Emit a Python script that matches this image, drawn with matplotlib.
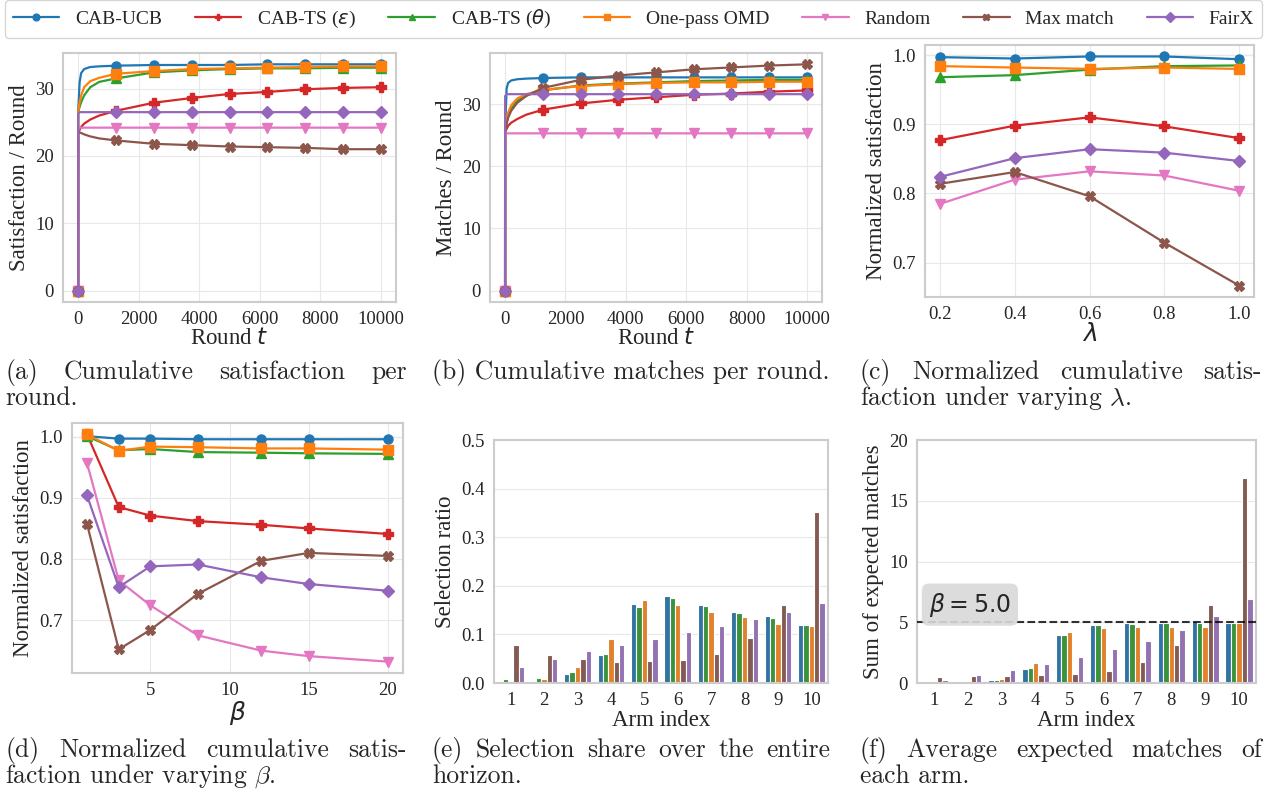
import numpy as np
import matplotlib
matplotlib.use('Agg')
import matplotlib.pyplot as plt
import seaborn as sns

sns.set_style('whitegrid')
plt.rcParams['font.family'] = ['Liberation Serif', 'DejaVu Sans']
plt.rcParams['mathtext.fontset'] = 'dejavusans'
plt.rcParams['axes.edgecolor'] = '#cccccc'
plt.rcParams['axes.linewidth'] = 1.5
plt.rcParams['grid.color'] = '#e8e8e8'
plt.rcParams['xtick.labelsize'] = 13.5
plt.rcParams['ytick.labelsize'] = 13.5
plt.rcParams['text.color'] = '#262626'
plt.rcParams['xtick.color'] = '#262626'
plt.rcParams['ytick.color'] = '#262626'

# ---- data ----
methods = ['CAB-UCB', r'CAB-TS ($\varepsilon$)', r'CAB-TS ($\theta$)', 'One-pass OMD',
           'Random', 'Max match', 'FairX']
colors = ['tab:blue', 'tab:red', 'tab:green', 'tab:orange', 'tab:pink', 'tab:brown', 'tab:purple']
markers = ['o', 'P', '^', 's', 'v', 'X', 'D']

rounds = [0, 1, 50, 100, 200, 400, 700, 1250, 2500, 3750, 5000, 6250, 7500, 8750, 10000]
mark_idx = [0, 7, 8, 9, 10, 11, 12, 13, 14]

sat_ucb = [0, 26.5, 31.0, 32.3, 32.9, 33.2, 33.3, 33.4, 33.5, 33.5, 33.5, 33.6, 33.6, 33.6, 33.6]
sat_ts_eps = [0, 23.5, 23.9, 24.3, 24.8, 25.4, 26.0, 26.7, 27.9, 28.6, 29.2, 29.5, 29.9, 30.1, 30.2]
sat_ts_theta = [0, 26.5, 27.3, 28.0, 29.0, 30.2, 31.0, 31.5, 32.4, 32.7, 32.9, 33.0, 33.0, 33.1, 33.1]
sat_omd = [0, 26.5, 28.0, 29.0, 30.2, 31.1, 31.6, 32.2, 32.6, 32.9, 33.0, 33.1, 33.2, 33.3, 33.3]
sat_random = [0, 24.2, 24.2, 24.2, 24.2, 24.2, 24.2, 24.2, 24.2, 24.2, 24.2, 24.2, 24.2, 24.2, 24.2]
sat_max = [0, 23.6, 23.5, 23.4, 23.2, 22.9, 22.6, 22.3, 21.8, 21.6, 21.4, 21.3, 21.2, 21.0, 21.0]
sat_fairx = [0, 26.3, 26.5, 26.5, 26.5, 26.5, 26.5, 26.5, 26.5, 26.5, 26.5, 26.5, 26.5, 26.5, 26.5]

match_ucb = [0, 26.0, 32.5, 33.4, 33.8, 34.0, 34.1, 34.2, 34.3, 34.3, 34.3, 34.3, 34.3, 34.3, 34.3]
match_ts_eps = [0, 25.5, 26.0, 26.5, 27.0, 27.6, 28.3, 29.1, 30.1, 30.7, 31.1, 31.5, 31.7, 32.0, 32.2]
match_ts_theta = [0, 25.5, 27.0, 28.0, 29.2, 30.5, 31.4, 32.2, 33.0, 33.3, 33.5, 33.7, 33.8, 33.9, 33.9]
match_omd = [0, 25.5, 27.5, 28.6, 29.8, 30.9, 31.6, 32.3, 32.9, 33.2, 33.4, 33.5, 33.5, 33.6, 33.6]
match_random = [0, 25.3, 25.3, 25.3, 25.3, 25.3, 25.3, 25.3, 25.3, 25.3, 25.3, 25.3, 25.3, 25.3, 25.3]
match_max = [0, 25.5, 26.8, 27.8, 28.9, 30.2, 31.3, 32.6, 33.9, 34.6, 35.1, 35.6, 35.9, 36.2, 36.4]
match_fairx = [0, 31.3, 31.6, 31.6, 31.6, 31.6, 31.6, 31.6, 31.6, 31.6, 31.6, 31.6, 31.6, 31.6, 31.6]

lambdas = [0.2, 0.4, 0.6, 0.8, 1.0]
lam_ucb = [0.997, 0.995, 0.998, 0.998, 0.994]
lam_ts_eps = [0.877, 0.898, 0.910, 0.897, 0.880]
lam_ts_theta = [0.968, 0.971, 0.979, 0.984, 0.985]
lam_omd = [0.984, 0.982, 0.980, 0.982, 0.980]
lam_random = [0.785, 0.820, 0.832, 0.826, 0.804]
lam_max = [0.814, 0.831, 0.796, 0.729, 0.667]
lam_fairx = [0.824, 0.851, 0.864, 0.859, 0.847]

betas = [1, 3, 5, 8, 12, 15, 20]
beta_ucb = [1.001, 0.997, 0.997, 0.996, 0.996, 0.996, 0.996]
beta_ts_eps = [1.004, 0.885, 0.871, 0.862, 0.856, 0.850, 0.841]
beta_ts_theta = [1.001, 0.978, 0.980, 0.975, 0.974, 0.973, 0.972]
beta_omd = [1.004, 0.977, 0.984, 0.983, 0.981, 0.981, 0.979]
beta_random = [0.957, 0.765, 0.724, 0.675, 0.650, 0.641, 0.632]
beta_max = [0.857, 0.652, 0.684, 0.743, 0.797, 0.810, 0.805]
beta_fairx = [0.904, 0.754, 0.788, 0.791, 0.770, 0.759, 0.748]

arms = ['1', '2', '3', '4', '5', '6', '7', '8', '9', '10']
bar_methods = ['CAB-UCB', 'CAB-TS (theta)', 'One-pass OMD', 'Max match', 'FairX']
bar_colors = ['tab:blue', 'tab:green', 'tab:orange', 'tab:brown', 'tab:purple']
share_ucb = [0.001, 0.003, 0.018, 0.057, 0.163, 0.179, 0.161, 0.146, 0.138, 0.119]
share_ts_theta = [0.008, 0.010, 0.022, 0.059, 0.156, 0.174, 0.159, 0.144, 0.134, 0.119]
share_omd = [0.003, 0.009, 0.032, 0.090, 0.171, 0.161, 0.147, 0.135, 0.121, 0.117]
share_max = [0.079, 0.057, 0.050, 0.043, 0.045, 0.047, 0.060, 0.092, 0.161, 0.352]
share_fairx = [0.032, 0.050, 0.066, 0.079, 0.090, 0.105, 0.118, 0.132, 0.146, 0.165]

exp_ucb = [0.0, 0.0, 0.22, 1.19, 3.97, 4.80, 4.91, 4.91, 5.10, 4.91]
exp_ts_theta = [0.0, 0.0, 0.22, 1.24, 3.97, 4.80, 4.86, 4.91, 4.97, 4.91]
exp_omd = [0.0, 0.0, 0.36, 1.63, 4.17, 4.52, 4.63, 4.63, 4.58, 4.91]
exp_max = [0.47, 0.55, 0.60, 0.66, 0.77, 1.02, 1.71, 3.14, 6.43, 16.9]
exp_fairx = [0.22, 0.66, 1.08, 1.54, 2.12, 2.81, 3.45, 4.33, 5.54, 6.95]
beta_level = 5.0

W, H = 1268, 795
fig = plt.figure(figsize=(W / 100, H / 100), dpi=100)
LABEL_FS = 16.5


def add_ax(l, t, r, b):
    return fig.add_axes([l / W, 1 - b / H, (r - l) / W, (b - t) / H])


def line_panel(ax, x, series, markevery=None):
    for ys, c, m, lab in zip(series, colors, markers, methods):
        ax.plot(x, ys, color=c, marker=m, markersize=6.5, lw=1.6, label=lab, markevery=markevery)


def bar_panel(ax, series):
    x = np.arange(len(arms))
    w = 0.8 / len(series)
    for i, (ys, c) in enumerate(zip(series, bar_colors)):
        ax.bar(x - 0.4 + w * (i + 0.5), ys, width=w, color=sns.desaturate(c, 0.75),
               edgecolor='white', linewidth=0.8, zorder=2)
    ax.set_xticks(x)
    ax.set_xticklabels(arms)
    ax.set_xlim(-0.5, 9.5)
    ax.grid(axis='x', visible=False)
    ax.set_xlabel('Arm index', fontsize=LABEL_FS, labelpad=1)


# (a)
ax_a = add_ax(63, 53, 396, 302)
line_panel(ax_a, rounds, [sat_ucb, sat_ts_eps, sat_ts_theta, sat_omd, sat_random, sat_max, sat_fairx], mark_idx)
ax_a.set_xlabel('Round $t$', fontsize=LABEL_FS, labelpad=0)
ax_a.set_ylabel('Satisfaction / Round', fontsize=LABEL_FS)
ax_a.set_xticks([0, 2000, 4000, 6000, 8000, 10000])

# (b)
ax_b = add_ax(490, 53, 822, 302)
line_panel(ax_b, rounds, [match_ucb, match_ts_eps, match_ts_theta, match_omd, match_random, match_max, match_fairx], mark_idx)
ax_b.set_xlabel('Round $t$', fontsize=LABEL_FS, labelpad=0)
ax_b.set_ylabel('Matches / Round', fontsize=LABEL_FS)
ax_b.set_xticks([0, 2000, 4000, 6000, 8000, 10000])

# (c)
ax_c = add_ax(925, 45, 1254, 297)
line_panel(ax_c, lambdas, [lam_ucb, lam_ts_eps, lam_ts_theta, lam_omd, lam_random, lam_max, lam_fairx])
ax_c.axhline(1.0, color='gray', ls='--', lw=0.8, zorder=0)
ax_c.set_xlabel(r'$\lambda$', fontsize=18, labelpad=0)
ax_c.set_ylabel('Normalized satisfaction', fontsize=LABEL_FS)
ax_c.set_xticks(lambdas)

# (d)
ax_d = add_ax(72, 423, 403, 673)
line_panel(ax_d, betas, [beta_ucb, beta_ts_eps, beta_ts_theta, beta_omd, beta_random, beta_max, beta_fairx])
ax_d.axhline(1.0, color='gray', ls='--', lw=0.8, zorder=0)
ax_d.set_xlabel(r'$\beta$', fontsize=18, labelpad=0)
ax_d.set_ylabel('Normalized satisfaction', fontsize=LABEL_FS)

# (e)
ax_e = add_ax(494, 440, 828, 683)
bar_panel(ax_e, [share_ucb, share_ts_theta, share_omd, share_max, share_fairx])
ax_e.set_ylim(0, 0.5)
ax_e.set_ylabel('Selection ratio', fontsize=LABEL_FS)

# (f)
ax_f = add_ax(917, 440, 1256, 683)
bar_panel(ax_f, [exp_ucb, exp_ts_theta, exp_omd, exp_max, exp_fairx])
ax_f.set_ylim(0, 20)
ax_f.set_yticks([0, 5, 10, 15, 20])
ax_f.axhline(beta_level, color='black', ls='--', lw=1.5, alpha=0.8, zorder=3)
ax_f.text(-0.15, beta_level + 1.45, r'$\beta = %.1f$' % beta_level, fontsize=17, va='center', ha='left',
          bbox=dict(boxstyle='round,pad=0.3', facecolor='#d9d9d9', edgecolor='none', alpha=0.9))
ax_f.set_ylabel('Sum of expected matches', fontsize=LABEL_FS)

for ax in [ax_a, ax_b, ax_c, ax_d, ax_e, ax_f]:
    ax.tick_params(pad=3)

# legend
handles, labels = ax_a.get_legend_handles_labels()
fig.legend(handles, labels, loc='lower left', bbox_to_anchor=(5 / W, 1 - 38 / H, 1257 / W, 34 / H),
           mode='expand', ncol=7, fontsize=14, frameon=True, edgecolor='#cccccc',
           handlelength=2.4, borderaxespad=0, columnspacing=1.0, markerscale=0.75)

# captions (LaTeX-like, justified)
cap_font = dict(family='cmr10', math_fontfamily='cm')
renderer = fig.canvas.get_renderer()
probe = fig.text(0, 0, '(b) Cumulative matches per round.', fontsize=10, **cap_font)
cap_size = 10 * 398 / probe.get_window_extent(renderer).width
probe.remove()


def caption_line(txt, x0, x1, base, justify):
    if not justify:
        fig.text(x0 / W, 1 - base / H, txt, fontsize=cap_size, va='baseline', ha='left', **cap_font)
        return
    words = txt.split()
    objs = [fig.text(0, 1 - base / H, w, fontsize=cap_size, va='baseline', ha='left', **cap_font) for w in words]
    widths = [o.get_window_extent(renderer).width for o in objs]
    gap = (x1 - x0 - sum(widths)) / (len(words) - 1)
    x = x0
    for o, w in zip(objs, widths):
        o.set_x(x / W)
        x += w + gap


caption_line('(a) Cumulative satisfaction per', 5, 407, 379, True)
caption_line('round.', 5, 407, 405, False)
caption_line('(b) Cumulative matches per round.', 432, 830, 379, False)
caption_line('(c) Normalized cumulative satis-', 860, 1262, 379, True)
caption_line(r'faction under varying $\lambda$.', 860, 1262, 405, False)
caption_line('(d) Normalized cumulative satis-', 5, 407, 757, True)
caption_line(r'faction under varying $\beta$.', 5, 407, 783, False)
caption_line('(e) Selection share over the entire', 432, 830, 757, True)
caption_line('horizon.', 432, 830, 783, False)
caption_line('(f) Average expected matches of', 860, 1262, 757, True)
caption_line('each arm.', 860, 1262, 783, False)

fig.savefig('out.png', dpi=100)
